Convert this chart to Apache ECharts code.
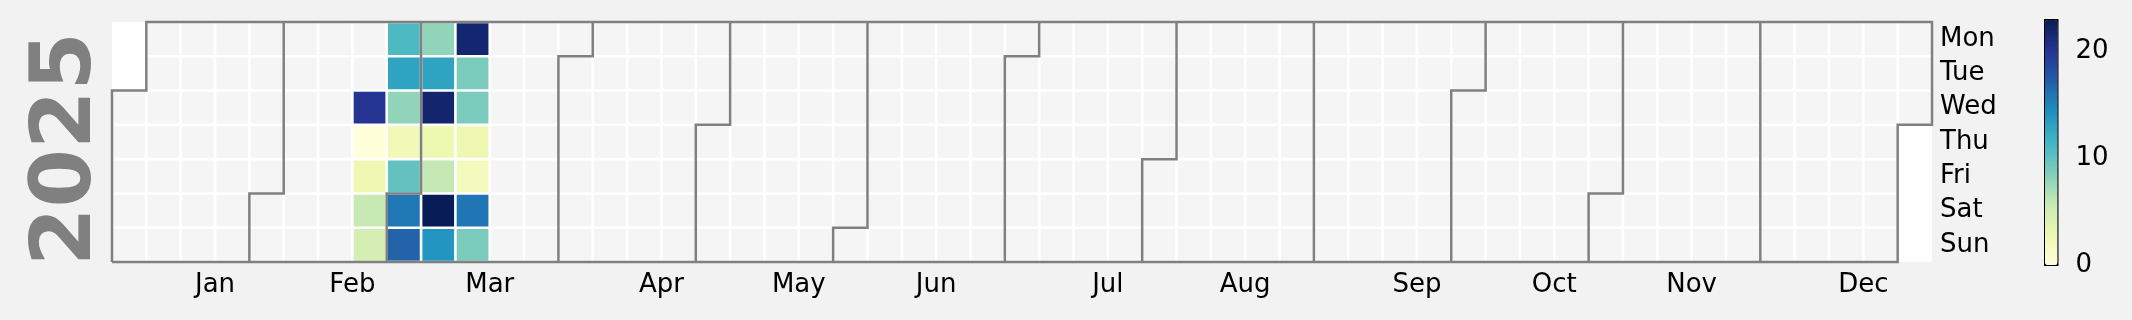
<!DOCTYPE html>
<html>
<head>
<meta charset="utf-8">
<script src="https://cdn.jsdelivr.net/npm/echarts@6/dist/echarts.min.js"></script>
<style>
html,body{margin:0;padding:0;background:#f2f2f2;}
#chart{width:2132px;height:320px;}
</style>
</head>
<body>
<div id="chart"></div>
<script>
// ---- data ----
const year = 2025;
const monthLabels = ['Jan','Feb','Mar','Apr','May','Jun','Jul','Aug','Sep','Oct','Nov','Dec'];
const dayLabels = ['Mon','Tue','Wed','Thu','Fri','Sat','Sun'];
const dataDates = [
  '2025-02-19','2025-02-20','2025-02-21','2025-02-22','2025-02-23',
  '2025-02-24','2025-02-25','2025-02-26','2025-02-27','2025-02-28','2025-03-01','2025-03-02',
  '2025-03-03','2025-03-04','2025-03-05','2025-03-06','2025-03-07','2025-03-08','2025-03-09',
  '2025-03-10','2025-03-11','2025-03-12','2025-03-13','2025-03-14','2025-03-15','2025-03-16'
];
const dataValues = [
  20.0, 0, 2.7, 5.7, 4.7,
  10.9, 12.9, 7.9, 2.4, 9.9, 15.7, 16.9,
  7.9, 12.9, 21.9, 2.9, 5.8, 22.9, 13.9,
  21.8, 8.8, 8.8, 2.7, 1.9, 15.8, 8.8
];
const colorTicks = [0, 10, 20];
const ylgnbu = ['#ffffd9','#edf8b1','#c7e9b4','#7fcdbb','#41b6c4','#1d91c0','#225ea8','#253494','#081d58'];

// ---- calendar geometry (derived from dates) ----
const DAY = 86400000;
const jan1 = Date.UTC(year, 0, 1);
const startWd = (new Date(jan1).getUTCDay() + 6) % 7;
const nDays = Math.round((Date.UTC(year + 1, 0, 1) - jan1) / DAY);
const nWeeks = Math.ceil((nDays + startWd) / 7);
function cellOf(ts) {
  const pos = Math.round((ts - jan1) / DAY) + startWd;
  return [Math.floor(pos / 7), pos % 7];
}
function parseDate(s) {
  const p = s.split('-').map(Number);
  return Date.UTC(p[0], p[1] - 1, p[2]);
}
const valueCells = dataDates.map((s, i) => {
  const c = cellOf(parseDate(s));
  return [c[0], c[1], dataValues[i]];
});
const dataSet = new Set(dataDates.map(s => Math.round((parseDate(s) - jan1) / DAY)));
const emptyCells = [];
for (let d = 0; d < nDays; d++) {
  if (!dataSet.has(d)) { const c = cellOf(jan1 + d * DAY); emptyCells.push([c[0], c[1]]); }
}
function stepPath(ts) {
  const c = cellOf(ts);
  return c[1] === 0 ? [[c[0], 7], [c[0], 0]] : [[c[0], 7], [c[0], c[1]], [c[0] + 1, c[1]], [c[0] + 1, 0]];
}
const boundaryPaths = [];
for (let m = 1; m < 12; m++) boundaryPaths.push(stepPath(Date.UTC(year, m, 1)));
(function () {
  const s = cellOf(jan1);
  const e = cellOf(jan1 + (nDays - 1) * DAY);
  const eTop = e[0] + 1;
  boundaryPaths.push([[s[0], 7], [s[0], s[1]], [s[0] + 1, s[1]], [s[0] + 1, 0], [eTop, 0],
    [eTop, e[1] + 1], [e[0], e[1] + 1], [e[0], 7], [s[0], 7]]);
})();
const monthTickPos = monthLabels.map((l, i) => cellOf(Date.UTC(year, i, 15))[0] + 1);
const monthByPos = {};
monthTickPos.forEach((p, i) => { monthByPos[p] = monthLabels[i]; });
const vmin = Math.min(...dataValues);
const vmax = Math.max(...dataValues);

const FONT = 'DejaVu Sans';
const GAP = 1.3;
function cellRect(api, fill) {
  const c = api.value(0), r = api.value(1);
  const a = api.coord([c, r]), b = api.coord([c + 1, r + 1]);
  return {
    type: 'rect',
    shape: {
      x: Math.min(a[0], b[0]) + GAP, y: Math.min(a[1], b[1]) + GAP,
      width: Math.abs(b[0] - a[0]) - 2 * GAP, height: Math.abs(b[1] - a[1]) - 2 * GAP
    },
    style: { fill: fill }
  };
}

const chart = echarts.init(document.getElementById('chart'));
chart.setOption({
  animation: false,
  backgroundColor: '#f2f2f2',
  textStyle: { fontFamily: FONT },
  grid: [
    { left: 112, top: 22, width: 1820, height: 240, show: true, backgroundColor: '#ffffff', borderWidth: 0 },
    { left: 2045, top: 20, width: 12.5, height: 245, show: true, backgroundColor: 'transparent', borderColor: '#000', borderWidth: 2 }
  ],
  xAxis: [
    {
      gridIndex: 0, type: 'value', min: 0, max: nWeeks,
      axisLine: { show: false }, axisTick: { show: false }, splitLine: { show: false },
      axisLabel: {
        customValues: monthTickPos, formatter: v => monthByPos[v] || '',
        fontSize: 26, color: '#000', margin: 10, fontFamily: FONT
      }
    },
    { gridIndex: 1, type: 'value', min: 0, max: 1, show: false }
  ],
  yAxis: [
    {
      gridIndex: 0, type: 'value', min: 0, max: 7, inverse: true, position: 'right',
      axisLine: { show: false }, axisTick: { show: false }, splitLine: { show: false },
      axisLabel: {
        customValues: dayLabels.map((d, i) => i + 0.5), formatter: v => dayLabels[Math.floor(v)],
        fontSize: 26, color: '#000', margin: 8, fontFamily: FONT, padding: [6, 0, 0, 0]
      }
    },
    {
      gridIndex: 1, type: 'value', min: vmin, max: vmax, position: 'right',
      axisLine: { show: false }, splitLine: { show: false },
      axisTick: { show: true, customValues: colorTicks, length: 9, lineStyle: { color: '#000', width: 2 } },
      axisLabel: { customValues: colorTicks, fontSize: 26, color: '#000', margin: 18, fontFamily: FONT, padding: [11, 0, 0, 0] }
    }
  ],
  visualMap: {
    type: 'continuous', min: vmin, max: vmax, seriesIndex: 1, dimension: 2,
    inRange: { color: ylgnbu }, calculable: false, orient: 'vertical',
    left: 2045, top: 20, itemWidth: 12.5, itemHeight: 245, padding: 0, show: true
  },
  graphic: [{
    type: 'text', x: 68, y: 149, rotation: Math.PI / 2,
    style: { text: String(year), fontSize: 84, fontWeight: 'bold', fill: '#808080',
      align: 'center', verticalAlign: 'middle', fontFamily: FONT }
  }],
  series: [
    {
      type: 'custom', xAxisIndex: 0, yAxisIndex: 0, data: emptyCells, z: 2,
      renderItem: (params, api) => cellRect(api, '#f5f5f5')
    },
    {
      type: 'custom', xAxisIndex: 0, yAxisIndex: 0, data: valueCells, z: 3,
      encode: { x: 0, y: 1 },
      renderItem: (params, api) => cellRect(api, api.visual('color'))
    },
    {
      type: 'custom', xAxisIndex: 0, yAxisIndex: 0, z: 5, clip: false,
      data: boundaryPaths.map((p, i) => [i, 0]),
      renderItem: (params, api) => ({
        type: 'polyline',
        shape: { points: boundaryPaths[params.dataIndex].map(p => api.coord(p)) },
        style: { stroke: '#808080', lineWidth: 2.5, fill: null, lineJoin: 'miter' }
      })
    }
  ]
});
</script>
</body>
</html>
